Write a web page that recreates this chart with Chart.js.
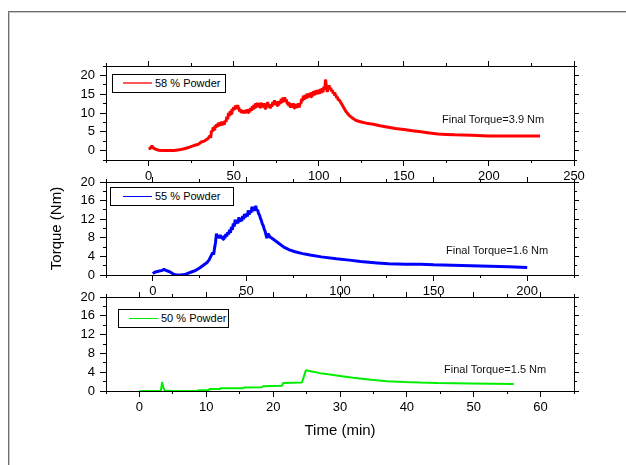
<!DOCTYPE html>
<html><head><meta charset="utf-8">
<script src="https://cdn.jsdelivr.net/npm/chart.js@4.4.0/dist/chart.umd.min.js"></script>
<style>
html,body{margin:0;padding:0;background:#fff;width:626px;height:465px;overflow:hidden;}
#wrap{position:relative;width:626px;height:465px;font-family:'Liberation Sans',Arial,sans-serif;color:#000;}
canvas{position:absolute;left:0;top:0;}
.frame{position:absolute;left:8px;top:11px;width:700px;height:500px;border-top:1px solid #6e6e6e;border-left:1px solid #6e6e6e;box-shadow:inset 1px 1px 0 #c8c8c8;}
.legend{position:absolute;box-sizing:border-box;border:1px solid #000;background:#fff;height:19px;font-size:11px;}
.legend .ln{position:absolute;top:8px;height:1px;width:29px;}
.legend .tx{position:absolute;top:2px;line-height:13px;white-space:nowrap;}
.note{position:absolute;font-size:11px;line-height:13px;white-space:nowrap;color:#111;}
</style>
</head><body>
<div id="wrap">
<div class="frame"></div>
<canvas id="c1" width="626" height="465"></canvas>
<canvas id="c2" width="626" height="465"></canvas>
<canvas id="c3" width="626" height="465"></canvas>
<div class="legend" style="left:112px;top:74px;width:114px;"><div class="ln" style="left:10px;top:7px;height:2px;background-color:#ff5a5a;"></div><div class="tx" style="left:42px;">58 % Powder</div></div>
<div class="legend" style="left:110px;top:187px;width:124px;"><div class="ln" style="left:12px;background-color:#0000ff;"></div><div class="tx" style="left:44px;">55 % Powder</div></div>
<div class="legend" style="left:118px;top:309px;width:111px;"><div class="ln" style="left:10px;background-color:#00ee00;"></div><div class="tx" style="left:42px;">50 % Powder</div></div>
<div class="note" style="left:442px;top:113px;">Final Torque=3.9 Nm</div>
<div class="note" style="left:446px;top:244px;">Final Torque=1.6 Nm</div>
<div class="note" style="left:444px;top:363px;">Final Torque=1.5 Nm</div>
</div>
<script>
// ---- data ----
const time58 = [0,1,2,2.5,4,6,8,12,15,18,21,24,27,29,31,33,35,
  36,36.5,37,37.5,38,38.5,39,39.5,40,40.5,41,41.5,42,42.5,43,43.5,44,44.5,45,45.5,46,46.5,47,47.5,48,48.5,49,49.5,
  50,50.5,51,51.5,52,52.5,53,53.5,54,54.5,55,55.5,56,56.5,57,57.5,58,58.5,59,59.5,
  60,60.5,61,61.5,62,62.5,63,63.5,64,64.5,65,65.5,66,66.5,67,67.5,68,68.5,69,69.5,
  70,70.5,71,71.5,72,72.5,73,73.5,74,74.5,75,75.5,76,76.5,77,77.5,78,78.5,79,79.5,
  80,80.5,81,81.5,82,82.5,83,83.5,84,84.5,85,85.5,86,86.5,87,87.5,88,88.5,89,89.5,
  90,90.5,91,91.5,92,92.5,93,93.5,94,94.5,95,95.5,96,96.5,97,97.5,98,98.5,99,99.5,
  100,100.5,101,101.5,102,102.5,103,103.5,104,104.5,105,105.5,106,106.5,107,107.5,108,108.5,109,109.5,
  110,110.5,111,111.5,112,114,116,118,120,122,125,128,132,136,140,145,150,155,160,165,170,175,180,190,200,210,220,230];
const torque58 = [0.5,0.6,1.3,0.8,0.4,0.1,0,0,0,0.2,0.5,0.9,1.4,1.6,2.3,2.6,3.2,
  3.9,3.4,5.3,5.0,6.2,5.6,6.7,6.1,7.0,6.3,7.4,6.5,7.5,6.6,7.7,6.8,7.7,6.9,8.0,7.6,9.0,8.3,10.0,9.2,10.5,9.8,11.1,10.5,
  11.5,10.9,12.0,11.2,12.1,11.0,11.5,10.4,11.0,10.0,10.8,9.9,10.8,9.9,10.8,10.0,11.0,10.1,11.1,10.3,
  11.3,10.6,11.8,10.9,12.2,11.2,12.6,11.5,12.7,11.6,12.6,11.5,12.8,11.7,12.6,11.5,12.6,11.2,12.1,11.5,
  12.9,11.6,12.3,11.2,12.3,11.7,12.9,12.2,13.4,12.1,12.9,12.0,13.2,12.1,13.1,12.5,13.8,13.0,14.2,13.1,
  14.2,12.9,13.6,12.3,12.9,11.8,12.6,11.4,12.4,11.5,12.6,11.3,12.3,11.3,12.4,11.4,12.6,11.5,12.6,12.4,
  13.8,13.2,14.6,13.5,14.8,13.8,15.1,14.0,15.2,14.2,15.4,14.3,15.6,14.5,15.8,14.7,16.0,14.9,16.1,15.0,
  16.2,15.1,16.4,15.3,16.6,15.5,16.9,16.2,18.9,17.0,15.6,16.6,17.4,16.4,16.7,15.8,16.1,15.2,15.5,14.6,
  14.9,14.0,14.3,13.4,13.5,12.0,10.4,9.3,8.6,8.0,7.6,7.3,7.0,6.6,6.3,5.9,5.6,5.3,5.0,4.7,4.4,4.3,4.2,4.1,3.9,3.9,3.9,3.9];

const time55 = [0,1,3,5,6,7,9,11,12.5,15,17,19,21,23,25,27,29,30,31,32,32.5,33,33.5,
  34,34.5,35,35.5,36,36.5,37,37.5,38,38.5,39,39.5,40,40.5,41,41.5,42,42.5,43,43.5,44,44.5,
  45,45.5,46,46.5,47,47.5,48,48.5,49,49.5,50,50.5,51,51.5,52,52.5,53,53.5,54,54.5,
  55,55.5,56,56.5,57,57.5,58,58.5,59,59.5,60,60.5,61,61.5,62,62.5,63,64,66,68,70,73,76,80,84,90,98,105,111,120,126,135,143,150,160,170,180,190,200];
const torque55 = [0.3,0.6,0.8,1.0,1.2,1.0,0.7,0.2,0,0,0.1,0.4,0.7,1.0,1.5,2.1,2.7,3.2,4.0,4.8,4.4,5.8,7.0,
  8.9,8.2,8.5,7.9,8.6,7.9,8.3,7.7,8.5,7.9,8.8,8.3,9.2,8.7,9.7,9.1,10.3,9.7,11.1,10.4,11.9,11.0,
  11.6,11.1,12.4,11.5,11.9,11.6,12.7,12.0,13.1,12.4,13.2,12.6,13.9,13.0,13.8,13.4,14.7,13.7,14.2,13.9,
  14.9,13.8,14.0,13.2,12.9,12.2,11.7,11.0,10.6,9.9,9.4,8.6,7.9,8.9,8.6,8.2,8.1,7.8,7.2,6.6,6.0,5.4,5.0,4.6,4.3,3.9,3.5,3.2,2.9,2.6,2.4,2.3,2.3,2.2,2.1,2.0,1.9,1.8,1.6];

const time50 = [0,3.2,3.4,3.6,3.8,5,8.5,9,10.3,10.5,12,12.2,15.5,15.7,18.3,18.5,21.3,21.5,24.3,24.9,26,27,28,30,32,34.6,37,39.6,42,44.6,49.6,56];
const torque50 = [0,0,1.9,0.6,0.1,0,0,0.15,0.2,0.4,0.4,0.6,0.6,0.75,0.8,1.0,1.1,1.7,1.8,4.4,4.1,3.8,3.6,3.2,2.8,2.4,2.1,1.9,1.8,1.7,1.6,1.5];

// ---- tick values ----
const xTicks58 = [0,50,100,150,200,250];
const xMinor58 = [-25,0,25,50,75,100,125,150,175,200,225,250];
const yTicks58 = [0,5,10,15,20];
const yMinor58 = [-2.5,0,2.5,5,7.5,10,12.5,15,17.5,20,22.5];
const xTicks55 = [0,50,100,150,200];
const xMinor55 = [-25,0,25,50,75,100,125,150,175,200,225];
const xTicks50 = [0,10,20,30,40,50,60];
const xMinor50 = [-5,0,5,10,15,20,25,30,35,40,45,50,55,60,65];
const yTicks20 = [0,4,8,12,16,20];
const yMinor20 = [0,2,4,6,8,10,12,14,16,18,20];

const FONT = "'Liberation Sans', Arial, sans-serif";

function axis(pos, weight, min, max, ticks, tl, showLabels, size, extra) {
  const horiz = pos === 'top' || pos === 'bottom';
  const a = {
    type: 'linear', position: pos, weight: weight, min: min, max: max,
    afterBuildTicks: s => { s.ticks = ticks.map(v => ({value: v})); },
    afterFit: s => { if (horiz) s.height = size; else s.width = size; },
    ticks: {display: showLabels, autoSkip: false, maxRotation: 0, color: '#000',
            font: {family: FONT, size: 13}, padding: horiz ? 3 : 5},
    grid: {display: true, drawOnChartArea: false, drawTicks: true, tickLength: tl,
           color: '#000', tickColor: '#000', lineWidth: 1},
    border: {display: true, color: '#000', width: 1}
  };
  if (extra) Object.assign(a, extra);
  return a;
}

function makeChart(id, xs, ys, color, bw, xr, yr, xT, xM, yT, yM, pad, hx, xTitle, yTitle) {
  const pts = xs.map((x, i) => ({x: x, y: ys[i]}));
  const titleOf = t => t ? {display: true, text: t, color: '#000', padding: 0, font: {family: FONT, size: 15}} : {display: false};
  new Chart(document.getElementById(id), {
    type: 'line',
    data: {datasets: [{data: pts, borderColor: color, backgroundColor: color, borderWidth: bw,
      borderJoinStyle: 'bevel',
      pointRadius: 0, tension: 0, fill: false, xAxisID: 'x', yAxisID: 'y'}]},
    options: {
      responsive: false, animation: false, devicePixelRatio: 1,
      layout: {padding: pad},
      plugins: {legend: {display: false}, tooltip: {enabled: false}},
      scales: {
        x: axis('bottom', 1, xr[0], xr[1], xT, 6, true, hx, {title: titleOf(xTitle)}),
        xm: axis('bottom', 0, xr[0], xr[1], xM, 3, false, 0),
        xt: axis('top', 1, xr[0], xr[1], xT, 5, false, 0),
        xtm: axis('top', 0, xr[0], xr[1], xM, 3, false, 0),
        y: axis('left', 1, yr[0], yr[1], yT, 6, true, 58, {title: titleOf(yTitle)}),
        ym: axis('left', 0, yr[0], yr[1], yM, 3, false, 0),
        yr: axis('right', 1, yr[0], yr[1], yT, 5, false, 0),
        yrm: axis('right', 0, yr[0], yr[1], yM, 3, false, 0)
      }
    }
  });
}

// panel 1: chart area 106..574 x 66..160
makeChart('c1', time58, torque58, '#ff0000', 3, [-25, 250], [-2.5, 22.5],
  xTicks58, xMinor58, yTicks58, yMinor58, {left: 48, right: 52, top: 66, bottom: 465 - 160 - 30}, 30, null, null);
// panel 2: chart area 106..574 x 182..275
makeChart('c2', time55, torque55, '#0000ff', 3, [-25, 225], [0, 20],
  xTicks55, xMinor55, yTicks20, yMinor20, {left: 48, right: 52, top: 182, bottom: 465 - 275 - 30}, 30, null, 'Torque (Nm)');
// panel 3: chart area 106..574 x 297..391
makeChart('c3', time50, torque50, '#00ee00', 2, [-5, 65], [0, 20],
  xTicks50, xMinor50, yTicks20, yMinor20, {left: 48, right: 52, top: 297, bottom: 465 - 391 - 49}, 49, 'Time (min)', null);
</script>
</body></html>
